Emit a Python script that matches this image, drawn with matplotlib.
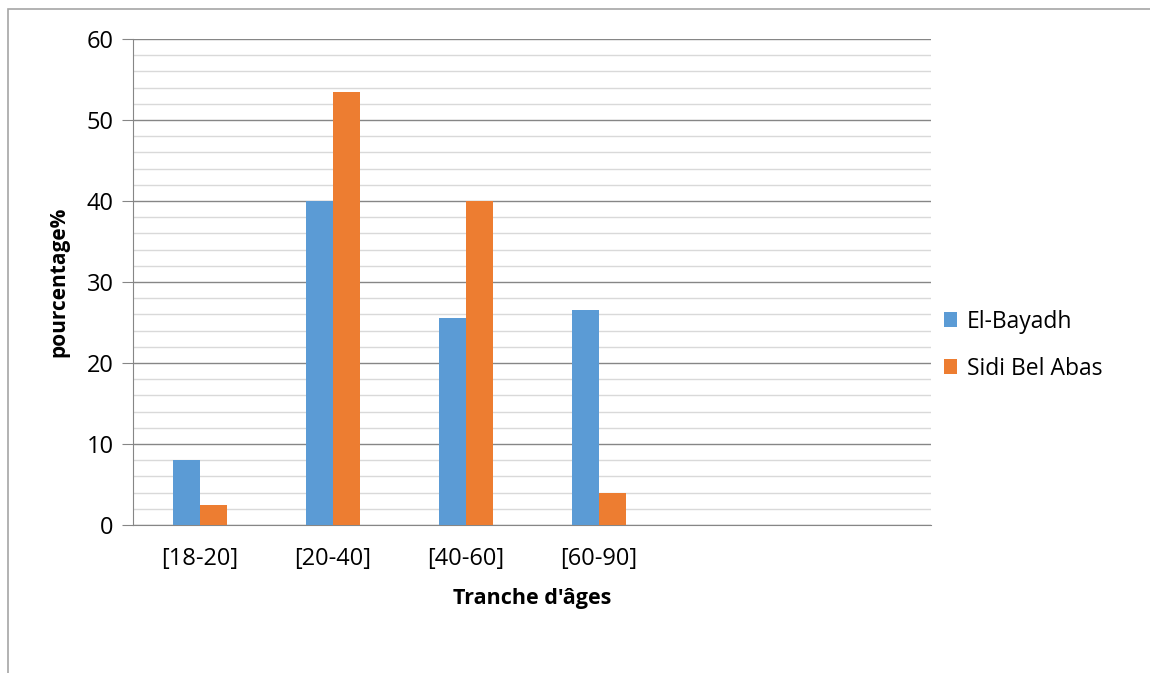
import numpy as np
import matplotlib.pyplot as plt
from matplotlib.patches import Rectangle

plt.rcParams['font.family'] = ['Open Sans', 'DejaVu Sans']

categories = ["[18-20]", "[20-40]", "[40-60]", "[60-90]", "", ""]
el_bayadh = [8, 40, 25.5, 26.5]
sidi_bel_abas = [2.5, 53.5, 40, 4]

blue = "#5b9bd5"
orange = "#ed7d31"

fig = plt.figure(figsize=(11.5, 6.73), dpi=100)
ax = fig.add_axes([0.1157, 0.22, 0.6939, 0.722])

# outer chart frame
fig.patches.append(Rectangle((8/1150, -0.01), 1.02, 1 - 9/673 + 0.01, transform=fig.transFigure,
                             fill=False, edgecolor="#a6a6a6", linewidth=1.2))

x = np.arange(len(el_bayadh))
w = 0.203
ax.bar(x - w/2, el_bayadh, w, color=blue, label="El-Bayadh", zorder=3)
ax.bar(x + w/2, sidi_bel_abas, w, color=orange, label="Sidi Bel Abas", zorder=3)

ax.set_xlim(-0.5, len(categories) - 0.5)
ax.set_ylim(0, 60)
ax.set_xticks(np.arange(len(categories)))
ax.set_xticklabels(categories)
ax.set_yticks(np.arange(0, 61, 10))
ax.set_yticks(np.arange(0, 61, 2), minor=True)
ax.grid(axis='y', which='major', color="#868686", linewidth=1.0, zorder=0)
ax.grid(axis='y', which='minor', color="#d9d9d9", linewidth=1.0, zorder=0)

for s in ["top", "right"]:
    ax.spines[s].set_visible(False)
ax.spines["left"].set_color("#868686")
ax.spines["bottom"].set_color("#868686")

ax.tick_params(axis='y', which='major', length=8, color="#868686", labelsize=17, pad=6)
ax.tick_params(axis='y', which='minor', length=0)
ax.tick_params(axis='x', length=0, labelsize=17, pad=16)

ax.set_ylabel("pourcentage%", fontsize=15, fontweight='bold', labelpad=12)
ax.set_xlabel("Tranche d'âges", fontsize=15.5, fontweight='bold', labelpad=12)

ax.legend(loc='center left', bbox_to_anchor=(0.99, 0.37), frameon=False, fontsize=16.5,
          handlelength=0.6, handleheight=0.6, handletextpad=0.4, labelspacing=1.0)

fig.savefig("out.png", dpi=100)
